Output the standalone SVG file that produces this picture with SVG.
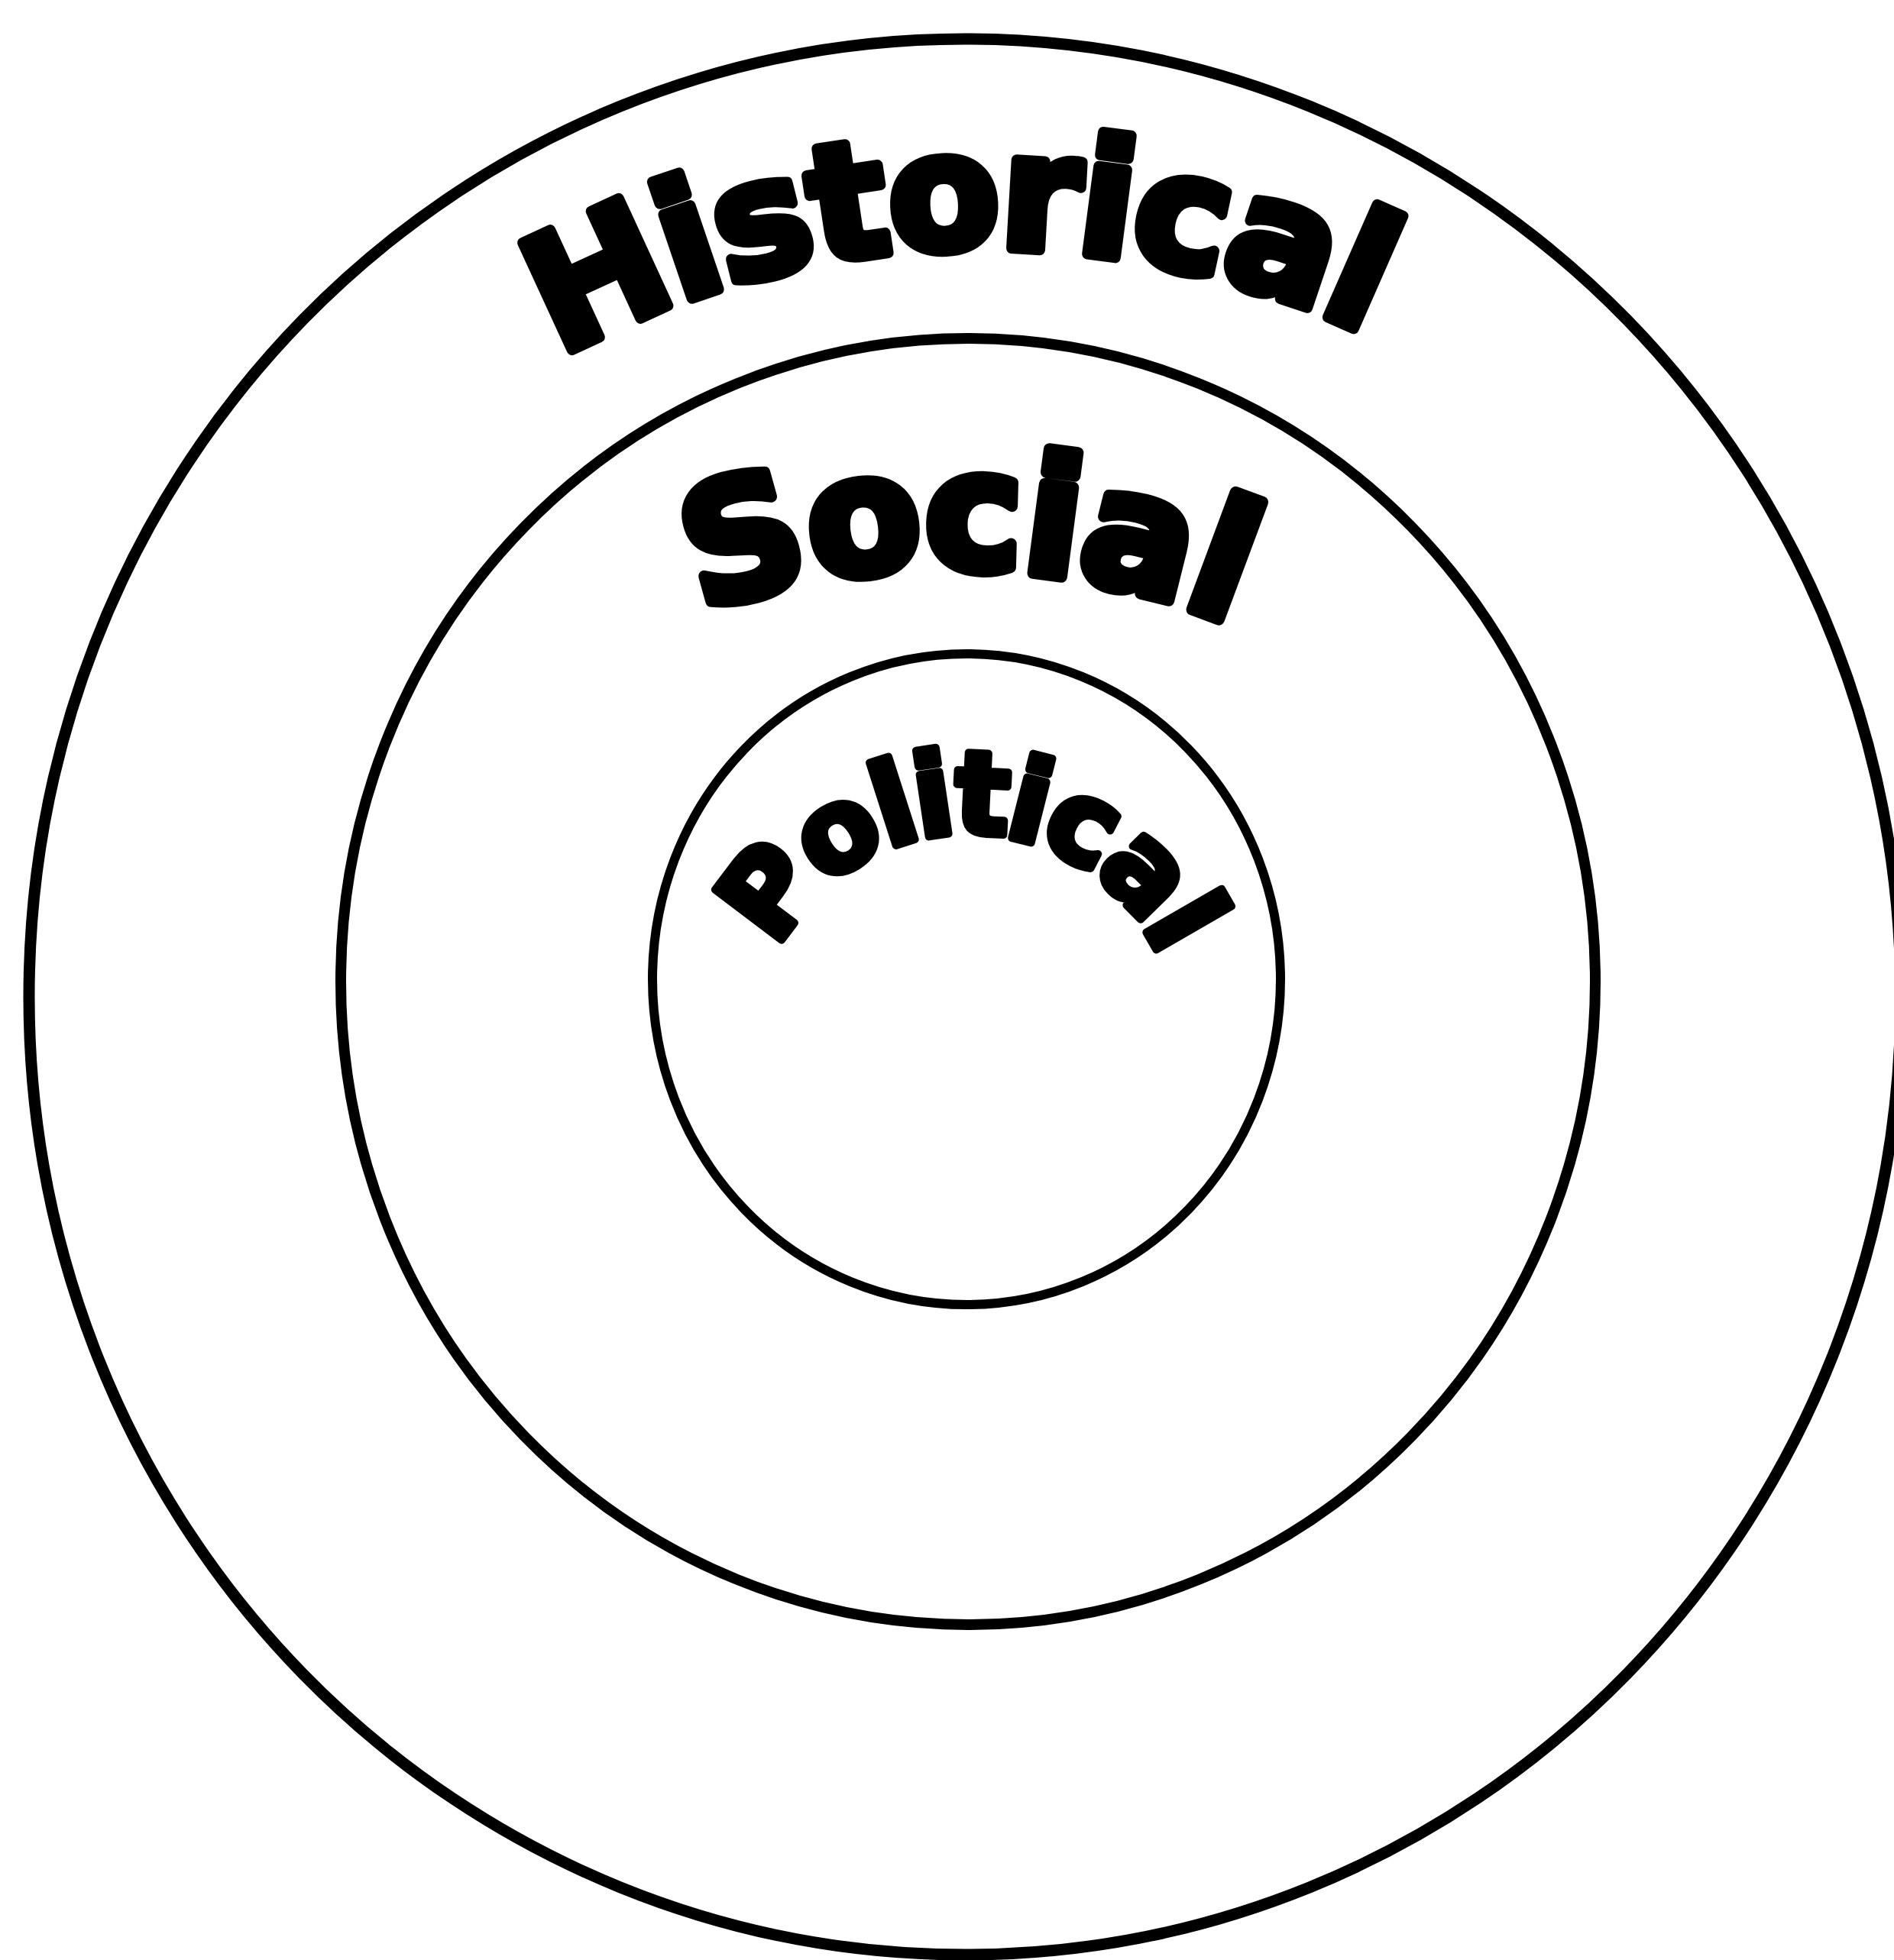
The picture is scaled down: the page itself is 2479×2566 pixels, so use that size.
<svg xmlns="http://www.w3.org/2000/svg" width="2479" height="2566" viewBox="0 0 2479 2566">
  <style>
    .ring { fill: none; stroke: #000; }
    .lbl { font-family: "DejaVu Sans", "Liberation Sans", sans-serif; font-weight: bold; fill: #000; stroke: #000; stroke-linejoin: round; text-anchor: middle; }
  </style>
  <defs>
    <path id="arcHist" d="M 294,900 A 1150,1150 0 0 1 2286,900"/>
    <path id="arcSoc" d="M 422,1220 A 950,950 0 0 1 2068,1220"/>
    <path id="arcPol" d="M 1027,1505 A 276,276 0 1 1 1505,1505"/>
  </defs>
  <rect width="2479" height="2566" fill="#fff"/>
  <g id="node-historical">
    <ellipse class="ring" cx="1263" cy="1305" rx="1225" ry="1254" stroke-width="15"/>
    <text class="lbl" font-size="212" stroke-width="14" letter-spacing="-5"><textPath href="#arcHist" startOffset="48.5%">Historical</textPath></text>
  </g>
  <g id="node-social">
    <ellipse class="ring" cx="1267" cy="1285" rx="821" ry="842" stroke-width="14"/>
    <text class="lbl" font-size="216" stroke-width="15" letter-spacing="-3"><textPath href="#arcSoc" startOffset="51%">Social</textPath></text>
  </g>
  <g id="node-political">
    <ellipse class="ring" cx="1265" cy="1282" rx="411" ry="426" stroke-width="12"/>
    <text class="lbl" font-size="150" stroke-width="10" letter-spacing="-7"><textPath href="#arcPol" startOffset="50.2%">Political</textPath></text>
  </g>
  <g id="connectors"/>
</svg>
